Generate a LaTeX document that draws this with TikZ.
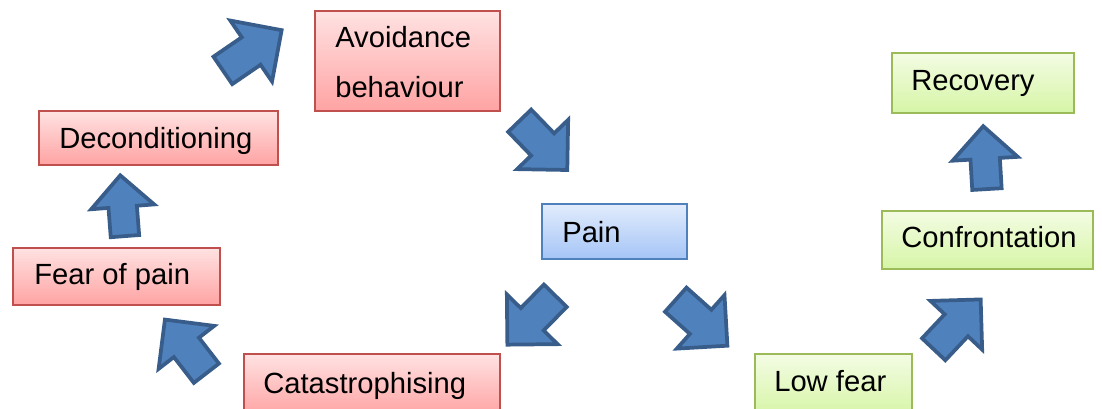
\documentclass[tikz,border=0pt]{standalone}
\usepackage{fontspec}
\setmainfont{Liberation Sans}
\usetikzlibrary{calc}
\definecolor{redline}{RGB}{192,80,77}
\definecolor{redtop}{RGB}{255,226,226}
\definecolor{redbot}{RGB}{255,163,163}
\definecolor{greenline}{RGB}{155,187,89}
\definecolor{greentop}{RGB}{244,252,228}
\definecolor{greenbot}{RGB}{214,245,166}
\definecolor{blueline}{RGB}{79,129,189}
\definecolor{bluetop}{RGB}{226,236,252}
\definecolor{bluebot}{RGB}{165,197,246}
\definecolor{arrowfill}{RGB}{79,129,189}
\definecolor{arrowline}{RGB}{56,93,138}

\begin{document}
\begin{tikzpicture}[x=0.75pt,y=-0.75pt,
  box/.style 2 args={rectangle, inner sep=0pt, anchor=north west, line width=1.2pt,
    minimum width=#1*0.75pt, minimum height=#2*0.75pt},
  redbox/.style={draw=redline, top color=redtop, bottom color=redbot},
  greenbox/.style={draw=greenline, top color=greentop, bottom color=greenbot},
  bluebox/.style={draw=blueline, top color=bluetop, bottom color=bluebot},
  lbl/.style={anchor=base west, inner sep=0pt, font=\fontsize{21.9}{26}\selectfont},
  barrow/.pic={
    \draw[line width=2.8pt, line join=miter, draw=arrowline, fill=arrowfill]
      (1,16) -- (34,16) -- (34,35.5) -- (69.5,0) -- (34,-35.5) -- (34,-16) -- (1,-16) -- cycle;}
]
\useasboundingbox (0,0) rectangle (1102,408);
\clip (0,0) rectangle (1102,408);

% boxes of the fear-avoidance cycle
\node[box={185}{100}, redbox] (avoid) at (314,10) {};
\node[box={239}{54}, redbox] (decond) at (38,110) {};
\node[box={207}{57}, redbox] (fear) at (12,247) {};
\node[box={256}{62}, redbox] (catas) at (243,353) {};
% starting point
\node[box={145}{55}, bluebox] (pain) at (541,203) {};
% recovery path
\node[box={157}{62}, greenbox] (lowfear) at (754,353) {};
\node[box={211}{58}, greenbox] (confront) at (881,210) {};
\node[box={182}{60}, greenbox] (recovery) at (891,52) {};

% labels
\node[lbl] (avoid-t1) at ($(avoid.north west)+(21,37)$) {Avoidance};
\node[lbl] (avoid-t2) at ($(avoid.north west)+(21,87)$) {behaviour};
\node[lbl] (decond-t) at ($(decond.north west)+(21,38)$) {Deconditioning};
\node[lbl] (fear-t) at ($(fear.north west)+(22,37)$) {Fear of pain};
\node[lbl] (catas-t) at ($(catas.north west)+(20,40)$) {Catastrophising};
\node[lbl] (pain-t) at ($(pain.north west)+(21,39)$) {Pain};
\node[lbl] (lowfear-t) at ($(lowfear.north west)+(20,38)$) {Low fear};
\node[lbl] (confront-t) at ($(confront.north west)+(20,37)$) {Confrontation};
\node[lbl] (recovery-t) at ($(recovery.north west)+(20,38)$) {Recovery};

% block arrows, placed at their tails
\pic[rotate=127.7, scale=0.99] at (207,374) {barrow};
\pic[rotate=94.4, scale=0.89] at (125,237) {barrow};
\pic[rotate=34.4, scale=1.04] at (222,71) {barrow};
\pic[rotate=-46, scale=1.0] at (519,120) {barrow};
\pic[rotate=-134.4, scale=1.0] at (556,295) {barrow};
\pic[rotate=-41.7, scale=1.01] at (675,299) {barrow};
\pic[rotate=46.7, scale=1.0] at (933,350) {barrow};
\pic[rotate=93.4, scale=0.92] at (987,190) {barrow};
\end{tikzpicture}
\end{document}
